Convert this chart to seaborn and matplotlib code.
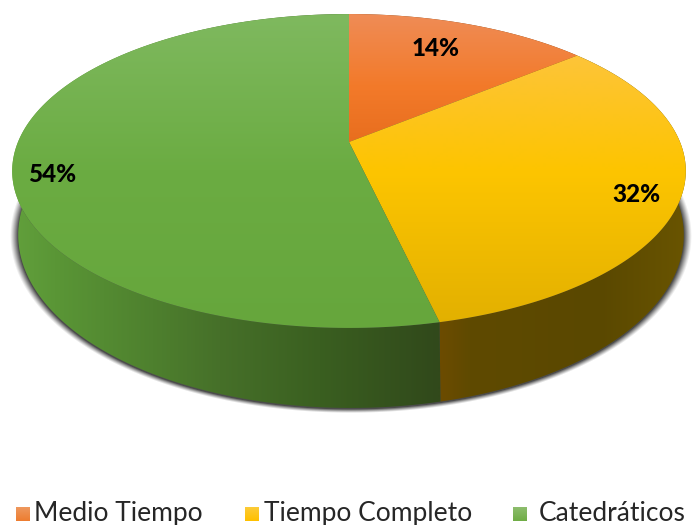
import numpy as np
import seaborn as sns
import matplotlib.pyplot as plt
from matplotlib.patches import Polygon

# Labels round these to 14 / 32 / 54
categories = ["Medio Tiempo", "Tiempo Completo", "Catedráticos"]
values = [14.0, 32.4, 53.6]
palette = ["#ED7D31", "#FFC000", "#70AD47"]

# Colour stops for the top of each slice (top to bottom of the picture)
top_stops = [
    [(14, "#EF8C56"), (85, "#F37A2A"), (142, "#E86E1E")],
    [(50, "#FDC43C"), (170, "#FDC500"), (325, "#E2B000")],
    [(14, "#7FB95F"), (170, "#6BAC42"), (330, "#66A63C")],
]
# Colour stops for the side wall (left to right)
wall_stops = [
    [(340, "#7A4010"), (600, "#7A4010")],
    [(437, "#6E4C00"), (470, "#5F4A00"), (600, "#5A4800"), (690, "#6A5500")],
    [(12, "#62A03C"), (55, "#5A9636"), (153, "#4E802E"), (220, "#467029"), (320, "#3A5F20"), (438, "#31491B")],
]
label_pos = [(436, 48), (636, 195), (52, 174)]
legend_x = [16, 245, 513]
legend_text_x = [34, 264, 539]

# Geometry of the tilted pie, in pixels
cx, cy = 349, 142
a, b, k = 151.6, 331.0, 0.1847
ell_cy, ell_ry, ell_rx = 171, 157, 337
low_cx, low_cy, low_rx, low_ry = 351, 235, 333, 173


def rim(start, stop):
    t = np.radians(np.linspace(start, stop, 200))
    u, v = np.sin(t), np.cos(t)
    d = 1 + k * v
    return cx + b * u / d, cy - a * v / d


def lower(x, y):
    return low_cx + (x - cx) * low_rx / ell_rx, low_cy + (y - ell_cy) * low_ry / ell_ry


def gradient(ax, stops, pts, vertical, zorder):
    pos = np.array([s[0] for s in stops], dtype=float)
    cols = np.array([plt.matplotlib.colors.to_rgb(s[1]) for s in stops])
    grid = np.arange(0, 693 if not vertical else 526)
    img = np.stack([np.interp(grid, pos, cols[:, i]) for i in range(3)], axis=-1)
    img = img[:, None, :] if vertical else img[None, :, :]
    im = ax.imshow(img, extent=(0, 692, 525, 0), aspect="auto", zorder=zorder, interpolation="bilinear")
    patch = Polygon(pts, closed=True, transform=ax.transData, fc="none", ec="none")
    ax.add_patch(patch)
    im.set_clip_path(patch)


sns.set_theme(style="white")
plt.rcParams["font.family"] = ["Lato", "DejaVu Sans"]
fig, ax = plt.subplots(figsize=(6.92, 5.25), dpi=100)
fig.subplots_adjust(0, 0, 1, 1)
ax.set_axis_off()

# Soft shadow under the lower rim
xx, yy = np.meshgrid(np.arange(692) + 0.5, np.arange(525) + 0.5)
r = np.sqrt(((xx - low_cx) / low_rx) ** 2 + ((yy - low_cy - 1) / low_ry) ** 2)
alpha = np.clip((1.024 - r) / 0.024, 0, 1) ** 1.2 * 0.9
shadow = np.zeros((525, 692, 4))
shadow[..., :3] = 0.22
shadow[..., 3] = alpha
ax.imshow(shadow, extent=(0, 692, 525, 0), aspect="auto", zorder=1)

edges = np.cumsum([0] + values) / sum(values) * 360
for i in range(len(values)):
    x, y = rim(edges[i], edges[i + 1])
    lx, ly = lower(x, y)
    wall = np.column_stack([np.r_[x, lx[::-1]], np.r_[y, ly[::-1]]])
    gradient(ax, wall_stops[i], wall, False, 2)
for i in range(len(values)):
    x, y = rim(edges[i], edges[i + 1])
    top = np.column_stack([np.r_[cx, x], np.r_[cy, y]])
    gradient(ax, top_stops[i], top, True, 3)
    pct = f"{round(values[i] / sum(values) * 100)}%"
    ax.text(*label_pos[i], pct, ha="center", va="center", fontsize=17.5, fontweight=900,
            color="black", zorder=5)

# Legend, swatches carry the same light to dark fade as the slices
for i, name in enumerate(categories):
    sx = legend_x[i]
    swatch = [(sx, 507), (sx + 14, 507), (sx + 14, 521), (sx, 521)]
    c = palette[i]
    light = sns.light_palette(c, n_colors=5)[3]
    gradient(ax, [(507, light), (521, c)], swatch, True, 4)
    ax.text(legend_text_x[i], 521, name, ha="left", va="baseline", fontsize=19,
            color="#262626", zorder=5)

ax.set_xlim(0, 692)
ax.set_ylim(525, 0)
fig.savefig("out.png", dpi=100)
